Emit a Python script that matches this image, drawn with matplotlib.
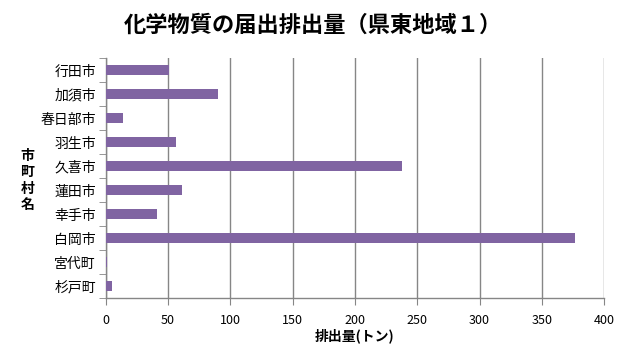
import matplotlib
matplotlib.use("Agg")
import matplotlib.pyplot as plt

plt.rcParams['font.family'] = ['Noto Sans CJK JP', 'DejaVu Sans']

cities = ["行田市", "加須市", "春日部市", "羽生市", "久喜市", "蓮田市", "幸手市", "白岡市", "宮代町", "杉戸町"]
values = [51, 90, 14, 56, 238, 61, 41, 376.5, 1.3, 5]
xticks = [0, 50, 100, 150, 200, 250, 300, 350, 400]

fig = plt.figure(figsize=(6.38, 3.61), dpi=100)
ax = fig.add_axes([0.1657, 0.1737, 0.947 - 0.1657, 0.8393 - 0.1737])

ypos = list(range(len(cities)))
ax.barh(ypos, values, height=0.42, color="#8064A2", zorder=3)
ax.set_ylim(len(cities) - 0.5, -0.5)
ax.set_yticks(ypos)
ax.set_yticklabels(cities, fontsize=10)
ax.set_xlim(0, 400)
ax.set_xticks(xticks)
ax.set_xticklabels([str(t) for t in xticks], fontsize=9)

# minor ticks on y at category boundaries
ax.set_yticks([i - 0.5 for i in range(len(cities) + 1)], minor=True)
ax.tick_params(axis='y', which='major', length=0, pad=7)
ax.tick_params(axis='y', which='minor', length=5, color="#868686", direction='out')
ax.tick_params(axis='x', length=5, color="#868686", direction='out', pad=6)

ax.grid(axis='x', color="#868686", linewidth=1, zorder=0)
for s in ['top', 'right']:
    ax.spines[s].set_visible(False)
for s in ['left', 'bottom']:
    ax.spines[s].set_color("#868686")
    ax.spines[s].set_linewidth(1)

fig.text(0.49, 0.93, "化学物質の届出排出量（県東地域１）", ha='center', va='center',
         fontsize=16, fontweight='bold')
ax.set_xlabel("排出量(トン)", fontsize=10, fontweight='bold', labelpad=1)
fig.text(0.043, 0.50, "市\n町\n村\n名", ha='center', va='center', fontsize=10,
         fontweight='bold', linespacing=1.2)

fig.savefig("out.png", dpi=100)
